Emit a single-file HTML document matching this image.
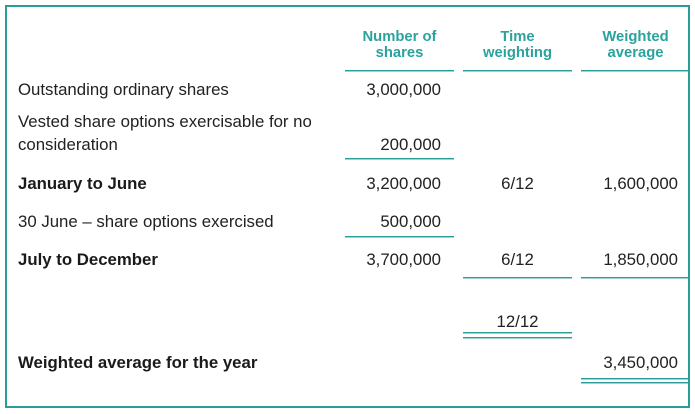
<!DOCTYPE html>
<html>
<head>
<meta charset="utf-8">
<style>
  html, body { margin:0; padding:0; }
  body { width:695px; height:414px; background:#fff; position:relative; overflow:hidden;
         font-family:"Liberation Sans", Arial, sans-serif; color:#222; }
  .box { position:absolute; left:5px; top:5px; width:681px; height:399px; border:2px solid #2a9d98; }
  .t { position:absolute; font-size:16.8px; line-height:20px; white-space:nowrap; }
  .b { font-weight:bold; color:#1a1a1a; }
  .r1 { right:254px; text-align:right; }
  .r3 { right:17px; text-align:right; }
  .c2 { left:463px; width:109px; text-align:center; }
  .h { position:absolute; font-size:14.8px; line-height:16px; font-weight:bold; color:#2aa39c; text-align:center; }
  .ln { position:absolute; height:1px; background:#2a9d98; box-shadow:0 1px 0 rgba(42,157,152,0.45); }
</style>
</head>
<body>
<div class="box"></div>

<div class="h" style="left:345px;width:109px;top:29px;">Number of<br>shares</div>
<div class="h" style="left:463px;width:109px;top:29px;">Time<br>weighting</div>
<div class="h" style="left:581px;width:109px;top:29px;">Weighted<br>average</div>

<div class="ln" style="left:345px;width:109px;top:70px;"></div>
<div class="ln" style="left:463px;width:109px;top:70px;"></div>
<div class="ln" style="left:581px;width:108px;top:70px;"></div>

<div class="t" style="left:18px;top:80px;">Outstanding ordinary shares</div>
<div class="t r1" style="top:80px;">3,000,000</div>

<div class="t" style="left:18px;top:112px;">Vested share options exercisable for no</div>
<div class="t" style="left:18px;top:135px;">consideration</div>
<div class="t r1" style="top:135px;">200,000</div>
<div class="ln" style="left:345px;width:109px;top:158px;"></div>

<div class="t b" style="left:18px;top:174px;">January to June</div>
<div class="t r1" style="top:174px;">3,200,000</div>
<div class="t c2" style="top:174px;">6/12</div>
<div class="t r3" style="top:174px;">1,600,000</div>

<div class="t" style="left:18px;top:212px;">30 June – share options exercised</div>
<div class="t r1" style="top:212px;">500,000</div>
<div class="ln" style="left:345px;width:109px;top:236px;"></div>

<div class="t b" style="left:18px;top:250px;">July to December</div>
<div class="t r1" style="top:250px;">3,700,000</div>
<div class="t c2" style="top:250px;">6/12</div>
<div class="t r3" style="top:250px;">1,850,000</div>
<div class="ln" style="left:463px;width:109px;top:277px;"></div>
<div class="ln" style="left:581px;width:108px;top:277px;"></div>

<div class="t c2" style="top:312px;">12/12</div>
<div class="ln" style="left:463px;width:109px;top:332px;"></div>
<div class="ln" style="left:463px;width:109px;top:337px;"></div>

<div class="t b" style="left:18px;top:353px;">Weighted average for the year</div>
<div class="t r3" style="top:353px;">3,450,000</div>
<div class="ln" style="left:581px;width:108px;top:378px;"></div>
<div class="ln" style="left:581px;width:108px;top:382px;"></div>
</body>
</html>
